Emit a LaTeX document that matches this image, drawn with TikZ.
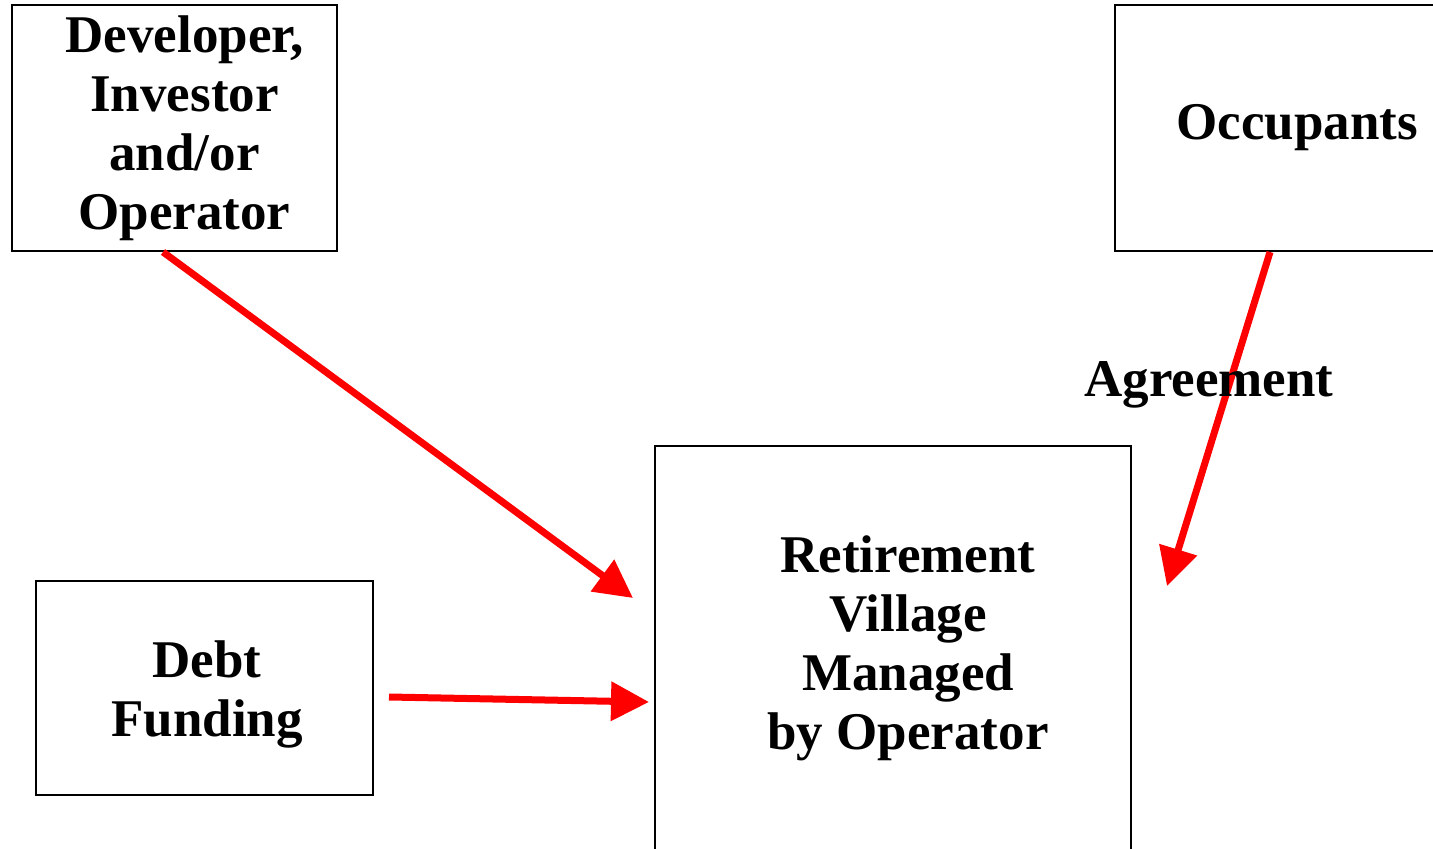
\documentclass[tikz,border=0pt]{standalone}
\usepackage{fontspec}
\setmainfont{Liberation Serif}
\usetikzlibrary{positioning,arrows.meta}
\begin{document}
\begin{tikzpicture}[x = .5pt, y = -.5pt,
	box/.style = {draw, line width = 1pt, inner sep = 0pt},
	boxtext/.style = {align = center, inner sep = 0pt,
		font = \bfseries\fontsize{26.5}{29.5}\selectfont},
	flow/.style = {draw = red, line width = 3.5pt, -{Triangle[length = 19pt, width = 19pt]}}]
				\useasboundingbox (0,0) rectangle (1433,849);
				\clip (0,0) rectangle (1433,849);
				\node[box, minimum width = 162.5pt, minimum height = 123pt] (dev) at (174.5,128) {};
				\node[box, minimum width = 182pt, minimum height = 123pt] (occ) at (1297,128) {};
				\node[box, minimum width = 168.5pt, minimum height = 107pt] (debt) at (204.5,688) {};
				\node[box, minimum width = 238pt, minimum height = 202pt] (village) at (893,648) {};
				\node[boxtext] (devtext) at ([xshift = 5pt]dev.center) {Developer,\\Investor\\and/or\\Operator};
				\node[boxtext] (occtext) at (occ.center) {Occupants};
				\node[boxtext] (debttext) at ([xshift = 1.25pt, yshift = -3pt]debt.center) {Debt\\Funding};
				\node[boxtext] (villagetext) at ([xshift = 7.5pt]village.center) {Retirement\\Village\\Managed\\by Operator};
				\coordinate (devout) at ([xshift = -5.75pt]dev.south);
				\coordinate (villagein1) at (633,598);
				\coordinate (debtout) at (389,697);
				\coordinate (villagein2) at (649,702);
				\coordinate (occout) at ([xshift = -13.5pt]occ.south);
				\coordinate (villagein3) at (1167,586);
				\draw[flow] (devout) -- (villagein1); %developer to village
				\draw[flow] (debtout) -- (villagein2); %debt to village
				\draw[flow] (occout) -- (villagein3); %occupants to village
				\node[boxtext, anchor = base] (agree) at (1209,397) {Agreement};
				\end{tikzpicture}
\end{document}
